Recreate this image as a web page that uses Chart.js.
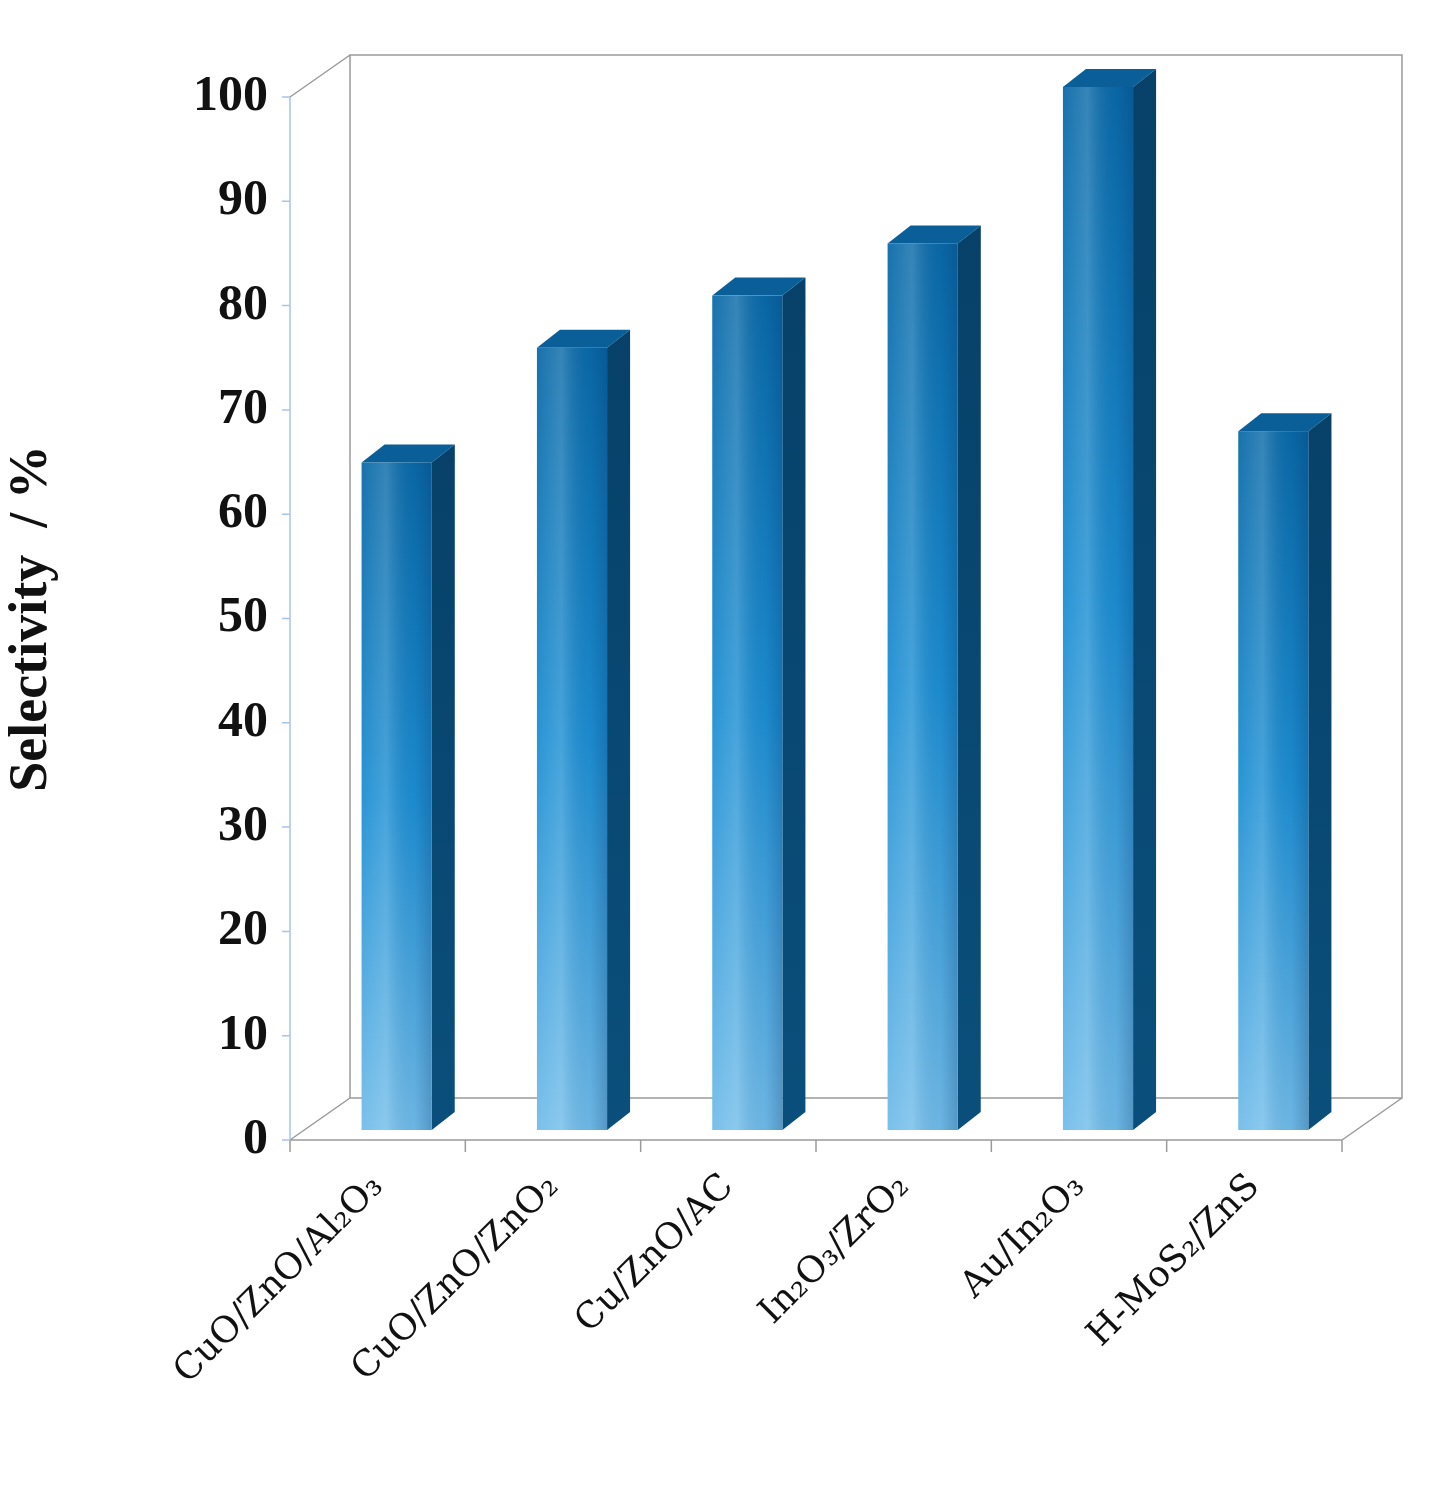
<!DOCTYPE html>
<html><head><meta charset="utf-8">
<script src="https://cdn.jsdelivr.net/npm/chart.js@4"></script>
<style>html,body{margin:0;padding:0;background:#fff}</style>
</head><body>
<canvas id="c" width="1450" height="1511" style="width:1450px;height:1511px;display:block"></canvas>
<script>
const categories = ["CuO/ZnO/Al₂O₃","CuO/ZnO/ZnO₂","Cu/ZnO/AC","In₂O₃/ZrO₂","Au/In₂O₃","H-MoS₂/ZnS"];
const selectivity = [64, 75, 80, 85, 100, 67];
const yTicks = [0,10,20,30,40,50,60,70,80,90,100];

const DX = 60, DY = -42;
const plugin = {
  id: 'threeD',
  beforeDatasetsDraw(chart) {
    const {ctx, chartArea: a} = chart;
    const y = chart.scales.y;
    ctx.save();
    ctx.lineWidth = 1.5;
    ctx.strokeStyle = '#9a9a9a';
    const t = y.getPixelForValue(100);
    ctx.beginPath();
    ctx.moveTo(a.left + DX, a.bottom + DY); ctx.lineTo(a.left + DX, t + DY);
    ctx.lineTo(a.right + DX, t + DY); ctx.lineTo(a.right + DX, a.bottom + DY);
    ctx.lineTo(a.left + DX, a.bottom + DY);
    ctx.moveTo(a.left, a.bottom); ctx.lineTo(a.left + DX, a.bottom + DY);
    ctx.moveTo(a.left, t); ctx.lineTo(a.left + DX, t + DY);
    ctx.moveTo(a.left, a.bottom); ctx.lineTo(a.right, a.bottom);
    ctx.moveTo(a.right, a.bottom); ctx.lineTo(a.right + DX, a.bottom + DY);
    const step = (a.right - a.left) / categories.length;
    for (let i = 0; i <= categories.length; i++) {
      const px = a.left + i * step;
      ctx.moveTo(px, a.bottom); ctx.lineTo(px, a.bottom + 12);
    }
    ctx.stroke();
    ctx.strokeStyle = '#a8c4ea';
    ctx.beginPath();
    ctx.moveTo(a.left, a.bottom); ctx.lineTo(a.left, t);
    yTicks.forEach(v => { const py = y.getPixelForValue(v); ctx.moveTo(a.left - 8, py); ctx.lineTo(a.left, py); });
    ctx.stroke();
    ctx.restore();
  },
  afterDatasetsDraw(chart) {
    const {ctx} = chart;
    const meta = chart.getDatasetMeta(0);
    ctx.save();
    meta.data.forEach(bar => {
      const w = bar.width, l = bar.x - w / 2 + 19, r = l + w;
      const top = bar.y - 10, bot = bar.base - 10;
      const sx = 23, sy = -18;
      ctx.fillStyle = '#0a4f7c';
      ctx.beginPath(); ctx.moveTo(r, top); ctx.lineTo(r + sx, top + sy); ctx.lineTo(r + sx, bot + sy); ctx.lineTo(r, bot); ctx.closePath(); ctx.fill();
      const gs = ctx.createLinearGradient(0, top, 0, bot);
      gs.addColorStop(0, 'rgba(0,40,70,0.35)'); gs.addColorStop(1, 'rgba(0,40,70,0)');
      ctx.fillStyle = gs; ctx.fill();
      ctx.fillStyle = '#0b5f98';
      ctx.beginPath(); ctx.moveTo(l, top); ctx.lineTo(l + sx, top + sy); ctx.lineTo(r + sx, top + sy); ctx.lineTo(r, top); ctx.closePath(); ctx.fill();
      const gv = ctx.createLinearGradient(0, top, 0, bot);
      gv.addColorStop(0, '#0a6aa8'); gv.addColorStop(0.5, '#1d8fd3'); gv.addColorStop(1, '#72bdea');
      ctx.fillStyle = gv; ctx.fillRect(l, top, w, bot - top);
      const gh = ctx.createLinearGradient(l, 0, r, 0);
      gh.addColorStop(0, 'rgba(255,255,255,0.05)'); gh.addColorStop(0.35, 'rgba(255,255,255,0.18)');
      gh.addColorStop(0.75, 'rgba(0,40,90,0.05)'); gh.addColorStop(1, 'rgba(0,40,90,0.25)');
      ctx.fillStyle = gh; ctx.fillRect(l, top, w, bot - top);
    });
    ctx.restore();
  }
};

new Chart(document.getElementById('c'), {
  type: 'bar',
  data: { labels: categories, datasets: [{ data: selectivity, backgroundColor: 'rgba(0,0,0,0)', barPercentage: 0.4, categoryPercentage: 1 }] },
  options: {
    responsive: false, animation: false, devicePixelRatio: 1,
    layout: { padding: { top: 97, right: 108, left: 0, bottom: 0 } },
    plugins: { legend: { display: false }, tooltip: { enabled: false } },
    scales: {
      y: {
        min: 0, max: 100, afterBuildTicks: s => { s.ticks = yTicks.map(v => ({value: v})); },
        afterFit: s => { s.width = 290; },
        grid: { display: false }, border: { display: false },
        ticks: { color: '#111', padding: 14, font: { family: 'Liberation Serif', size: 50, weight: 'bold' } },
        title: { display: true, text: 'Selectivity  / %', color: '#111', padding: 0, font: { family: 'Liberation Serif', size: 54, weight: 'bold' } }
      },
      x: {
        afterFit: s => { s.height = 371; },
        grid: { display: false }, border: { display: false },
        ticks: { color: '#111', minRotation: 45, maxRotation: 45, padding: 18, font: { family: 'DejaVu Serif', size: 36 } }
      }
    }
  },
  plugins: [plugin]
});
</script>
</body></html>
